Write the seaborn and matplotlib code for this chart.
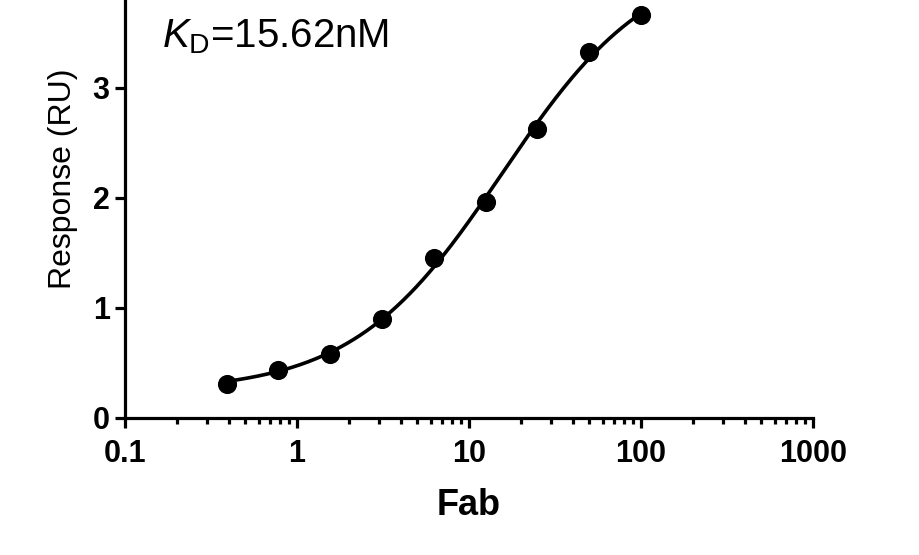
import numpy as np
import pandas as pd
import matplotlib
matplotlib.use("Agg")
import matplotlib.pyplot as plt
import seaborn as sns
from matplotlib.ticker import LogLocator, FixedLocator, FuncFormatter, NullFormatter

# ── Data ────────────────────────────────────────────────
fab_conc = [0.39, 0.78, 1.56, 3.125, 6.25, 12.5, 25, 50, 100]
response = [0.31, 0.435, 0.58, 0.90, 1.455, 1.96, 2.63, 3.33, 3.66]
kd_nm = 15.62

x_ticks = [0.1, 1, 10, 100, 1000]
x_tick_labels = ["0.1", "1", "10", "100", "1000"]
y_ticks = [0, 1, 2, 3]

df = pd.DataFrame({"Fab": fab_conc, "Response": response})

# one-site binding curve with KD fixed, bottom/span fitted by least squares
occ = df["Fab"] / (kd_nm + df["Fab"])
A = np.column_stack([np.ones(len(occ)), occ])
(bottom, span), *_ = np.linalg.lstsq(A, df["Response"].values, rcond=None)
x_fit = np.logspace(np.log10(min(fab_conc)), np.log10(max(fab_conc)), 200)
curve = pd.DataFrame({"Fab": x_fit, "Response": bottom + span * x_fit / (kd_nm + x_fit)})

# ── Style ───────────────────────────────────────────────
sns.set_theme(style="ticks")
plt.rcParams["font.family"] = ["Liberation Sans", "DejaVu Sans"]
plt.rcParams["mathtext.fontset"] = "custom"
plt.rcParams["mathtext.rm"] = "Liberation Sans"
plt.rcParams["mathtext.it"] = "Liberation Sans:italic"
plt.rcParams["text.color"] = "black"
plt.rcParams["axes.labelcolor"] = "black"
plt.rcParams["xtick.color"] = "black"
plt.rcParams["ytick.color"] = "black"

fig = plt.figure(figsize=(9.19, 5.55), dpi=100)
ax = fig.add_axes([0.136, 0.247, 0.7487, 0.7532])

sns.lineplot(data=curve, x="Fab", y="Response", color="black", linewidth=2.6, ax=ax)
sns.scatterplot(data=df, x="Fab", y="Response", color="black", s=190,
                edgecolor="black", linewidth=0, ax=ax, zorder=3)

ax.set_xscale("log")
ax.set_xlim(0.1, 1000)
ax.set_ylim(0, 3.8)
ax.xaxis.set_major_locator(FixedLocator(x_ticks))
ax.xaxis.set_major_formatter(FuncFormatter(lambda v, p: x_tick_labels[x_ticks.index(v)] if v in x_ticks else ""))
ax.xaxis.set_minor_locator(LogLocator(base=10, subs=np.arange(2, 10)))
ax.xaxis.set_minor_formatter(NullFormatter())
ax.set_yticks(y_ticks)

sns.despine(ax=ax)
for s in ["left", "bottom"]:
    ax.spines[s].set_linewidth(2.3)
    ax.spines[s].set_color("black")

ax.tick_params(axis="both", which="major", direction="out", length=7, width=2.3,
               color="black", labelcolor="black", labelsize=22, pad=4)
ax.tick_params(axis="x", which="major", pad=8)
ax.tick_params(axis="x", which="minor", direction="out", length=4.5, width=2.3, color="black")
for lab in ax.get_xticklabels() + ax.get_yticklabels():
    lab.set_fontweight("bold")

ax.set_xlabel("Fab", fontsize=26, fontweight="bold", labelpad=14, color="black")
ax.set_ylabel("Response (RU)", fontsize=23, color="black")
ax.yaxis.set_label_coords(-0.068, 0.572)

ax.text(162 / 919, 1 - 47 / 555, r"$K_\mathrm{D}$" + f"={kd_nm:.2f}nM",
        transform=fig.transFigure, fontsize=29, ha="left", va="baseline", color="black")

fig.savefig("out.png", dpi=100)
